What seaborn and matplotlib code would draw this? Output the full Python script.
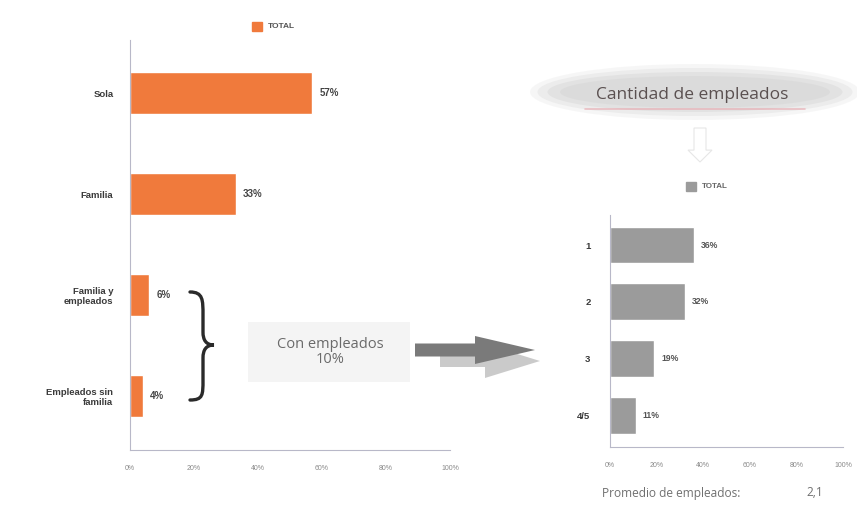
import matplotlib
matplotlib.use("Agg")
import matplotlib.pyplot as plt
import matplotlib.patches as mpatches
from matplotlib.path import Path
import seaborn as sns
import pandas as pd

# --- data -------------------------------------------------------------
situacion = ["Sola", "Familia", "Familia y\nempleados", "Empleados sin\nfamilia"]
situacion_pct = [57, 33, 6, 4]

cantidad = ["1", "2", "3", "4/5"]
cantidad_pct = [36, 32, 19, 11]

tick_vals = [0, 20, 40, 60, 80, 100]
tick_labels = ["0%", "20%", "40%", "60%", "80%", "100%"]

con_empleados_pct = 10
promedio_empleados = "2,1"
legend_label = "TOTAL"

ORANGE = "#F07A3C"
GRAY_BAR = "#9B9B9B"
TEXT_DARK = "#3a3a3a"

sns.set_theme(style="white")
plt.rcParams["font.family"] = ["Liberation Sans", "DejaVu Sans"]

W, H = 857, 509
fig = plt.figure(figsize=(W / 100, H / 100), dpi=100)
fig.patch.set_facecolor("white")


def fx(x):
    return x / W


def fy(y):
    return 1 - y / H


def style_axis(ax, labelsize, pad_y):
    ax.set_xlim(0, 100)
    ax.set_xticks(tick_vals)
    ax.set_xticklabels(tick_labels)
    ax.set_xlabel("")
    ax.set_ylabel("")
    for s in ["top", "right"]:
        ax.spines[s].set_visible(False)
    for s in ["left", "bottom"]:
        ax.spines[s].set_color("#b8b8c8")
        ax.spines[s].set_linewidth(0.8)
    ax.tick_params(axis="x", labelsize=5.0, colors="#9a9a9a", length=2,
                   width=0.6, pad=9)
    ax.tick_params(axis="y", labelsize=labelsize, colors=TEXT_DARK, length=0,
                   pad=pad_y)
    for t in ax.get_yticklabels():
        t.set_fontweight("bold")
    for t in ax.get_xticklabels():
        t.set_color("#8a8a8a")
    ax.set_facecolor("none")


# --- left chart: situación ----------------------------------------------
axl = fig.add_axes([fx(130), fy(450), fx(450) - fx(130), fy(40) - fy(450)])
df_l = pd.DataFrame({"cat": situacion, "pct": situacion_pct})
sns.barplot(data=df_l, x="pct", y="cat", orient="h", color=ORANGE,
            saturation=1, width=0.42, ax=axl)
axl.set_ylim(3.535, -0.525)
style_axis(axl, 6.8, 12)
axl.bar_label(axl.containers[0], labels=[f"{v}%" for v in situacion_pct],
              padding=5, fontsize=7.0, fontweight="bold", color="#444444")

# legend left
fig.patches.append(mpatches.Rectangle((fx(252), fy(31)), fx(10), fy(22) - fy(31),
                                      transform=fig.transFigure,
                                      color=ORANGE, zorder=5))
fig.text(fx(268), fy(27), legend_label, fontsize=6.0, fontweight="bold",
         color="#555555", va="center", ha="left")

# --- right chart: cantidad de empleados ---------------------------------
axr = fig.add_axes([fx(610), fy(447), fx(843) - fx(610), fy(215) - fy(447)])
df_r = pd.DataFrame({"cat": cantidad, "pct": cantidad_pct})
sns.barplot(data=df_r, x="pct", y="cat", orient="h", color=GRAY_BAR,
            saturation=1, width=0.65, ax=axr)
axr.set_ylim(3.56, -0.53)
style_axis(axr, 6.8, 14)
axr.bar_label(axr.containers[0], labels=[f"{v}%" for v in cantidad_pct],
              padding=5, fontsize=6.2, fontweight="bold", color="#555555")

# legend right
fig.patches.append(mpatches.Rectangle((fx(686), fy(191)), fx(10), fy(182) - fy(191),
                                      transform=fig.transFigure,
                                      color=GRAY_BAR, zorder=5))
fig.text(fx(702), fy(187), legend_label, fontsize=5.8, fontweight="bold",
         color="#666666", va="center", ha="left")

# --- "Cantidad de empleados" heading on a soft grey oval ----------------
for w, h, a in [(330, 56, 0.10), (315, 48, 0.14), (295, 40, 0.16),
                (270, 32, 0.12)]:
    fig.patches.append(mpatches.Ellipse((fx(695), fy(92)), fx(w), h / H,
                                        transform=fig.transFigure,
                                        facecolor="#b0b0b0", edgecolor="none",
                                        alpha=a, zorder=1))
fig.lines.append(plt.Line2D([fx(585), fx(805)], [fy(109), fy(109)],
                            transform=fig.transFigure, color="#e8a0a8",
                            lw=1.2, alpha=0.6, zorder=2))
fig.text(fx(692), fy(95), "Cantidad de empleados", fontsize=12.5,
         color="#5a5050", ha="center", va="center",
         family=["Open Sans", "DejaVu Sans"], zorder=3)

# faint hollow arrow pointing down
down = mpatches.FancyArrow(fx(700), fy(128), 0, fy(162) - fy(128),
                           width=fx(12), head_width=fx(24),
                           head_length=(fy(128) - fy(162)) * 0.35,
                           length_includes_head=True,
                           transform=fig.transFigure, facecolor="none",
                           edgecolor="#e6e6e6", lw=0.8, zorder=1)
fig.patches.append(down)

# --- brace grouping the two "empleados" rows ----------------------------
brace_pts = [(190, 292), (203, 292), (203, 300), (203, 315),
             (203, 332),
             (203, 340), (206, 345), (214, 345),
             (206, 345), (203, 350), (203, 358),
             (203, 380),
             (203, 395), (203, 400), (190, 400)]
brace_codes = [Path.MOVETO, Path.CURVE4, Path.CURVE4, Path.CURVE4,
               Path.LINETO,
               Path.CURVE4, Path.CURVE4, Path.CURVE4,
               Path.CURVE4, Path.CURVE4, Path.CURVE4,
               Path.LINETO,
               Path.CURVE4, Path.CURVE4, Path.CURVE4]
brace = Path([(fx(x), fy(y)) for x, y in brace_pts], brace_codes)
fig.patches.append(mpatches.PathPatch(brace, transform=fig.transFigure,
                                      facecolor="none", edgecolor="#2a2a2a",
                                      lw=2.4, capstyle="round", zorder=4))

# --- "Con empleados" callout box ----------------------------------------
fig.patches.append(mpatches.Rectangle((fx(248), fy(382)), fx(162), fy(322) - fy(382),
                                      transform=fig.transFigure,
                                      facecolor="#f4f4f4", edgecolor="none",
                                      zorder=1))
fig.text(fx(330), fy(352), f"Con empleados\n{con_empleados_pct}%", fontsize=10.5,
         color="#6a6a6a", ha="center", va="center", linespacing=1.0,
         family=["Open Sans", "DejaVu Sans"], zorder=3)

# --- grey arrow towards the right chart ---------------------------------
shadow = mpatches.FancyArrow(fx(440), fy(361), fx(540) - fx(440), 0,
                             width=(fy(355) - fy(367)), head_width=(fy(343) - fy(377)),
                             head_length=fx(55), length_includes_head=True,
                             transform=fig.transFigure, facecolor="#a8a8a8",
                             edgecolor="none", alpha=0.6, zorder=2)
fig.patches.append(shadow)
arrow = mpatches.FancyArrow(fx(415), fy(350), fx(535) - fx(415), 0,
                            width=(fy(343) - fy(356)), head_width=(fy(336) - fy(364)),
                            head_length=fx(60), length_includes_head=True,
                            transform=fig.transFigure, facecolor="#7a7a7a",
                            edgecolor="none", zorder=3)
fig.patches.append(arrow)

# --- average employees note ---------------------------------------------
fig.text(fx(602), fy(493), "Promedio de empleados:", fontsize=8.6,
         color="#707070", ha="left", va="center",
         family=["Open Sans", "DejaVu Sans"])
fig.text(fx(806), fy(493), promedio_empleados, fontsize=8.6,
         color="#707070", ha="left", va="center",
         family=["Open Sans", "DejaVu Sans"])

fig.savefig("out.png", dpi=100, facecolor="white")
